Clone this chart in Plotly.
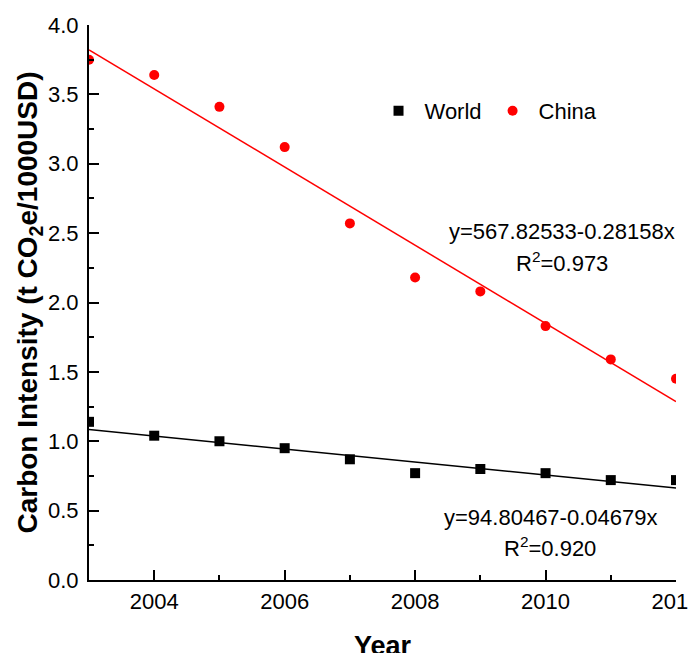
import plotly.graph_objects as go

years = [2003, 2004, 2005, 2006, 2007, 2008, 2009, 2010, 2011, 2012]
world = [1.14, 1.04, 1.00, 0.95, 0.87, 0.77, 0.80, 0.77, 0.72, 0.72]
china = [3.75, 3.64, 3.41, 3.12, 2.57, 2.18, 2.08, 1.83, 1.59, 1.45]

world_fit = (94.80467, -0.04679)
china_fit = (567.82533, -0.28158)
fit_x = [2003, 2012]

FONT = "Arial, Liberation Sans, sans-serif"

fig = go.Figure()

fig.add_trace(go.Scatter(
    x=fit_x, y=[world_fit[0] + world_fit[1] * x for x in fit_x],
    mode="lines", line=dict(color="black", width=1.5), showlegend=False))
fig.add_trace(go.Scatter(
    x=fit_x, y=[china_fit[0] + china_fit[1] * x for x in fit_x],
    mode="lines", line=dict(color="#ff0000", width=1.5), showlegend=False))

fig.add_trace(go.Scatter(
    x=years, y=world, mode="markers", name="World",
    marker=dict(symbol="square", color="black", size=10)))
fig.add_trace(go.Scatter(
    x=years, y=china, mode="markers", name="China",
    marker=dict(symbol="circle", color="#ff0000", size=10)))

ann_font = dict(family=FONT, size=22, color="black")
annotations = [
    dict(x=2010.25, y=2.51, text="y=567.82533-0.28158x"),
    dict(x=2010.25, y=2.29, text="R<sup>2</sup>=0.973"),
    dict(x=2010.07, y=0.454, text="y=94.80467-0.04679x"),
    dict(x=2010.07, y=0.238, text="R<sup>2</sup>=0.920"),
]
for a in annotations:
    a.update(xref="x", yref="y", showarrow=False, font=ann_font,
             xanchor="center", yanchor="middle")

fig.update_layout(
    width=696, height=653,
    margin=dict(l=81, r=28, t=17, b=81),
    paper_bgcolor="white", plot_bgcolor="white",
    font=dict(family=FONT, size=22, color="black"),
    annotations=annotations,
    legend=dict(orientation="h", x=0.483, y=0.845, xanchor="left", yanchor="middle",
                font=dict(family=FONT, size=22), bgcolor="rgba(0,0,0,0)",
                itemsizing="trace", itemwidth=42),
    xaxis=dict(
        range=[2003, 2012], tick0=2004, dtick=2, automargin=False,
        showline=True, linecolor="black", linewidth=2,
        ticks="inside", ticklen=10, tickwidth=2, tickcolor="black",
        minor=dict(ticks="inside", ticklen=5, tickwidth=2, dtick=1, tick0=2003, tickcolor="black"),
        showgrid=False, zeroline=False, ticklabelstandoff=1,
        ticklabeloverflow="allow",
        tickfont=dict(family=FONT, size=22),
        title=dict(text="<b>Year</b>", font=dict(family=FONT, size=27), standoff=24),
    ),
    yaxis=dict(
        range=[0, 4.0], tick0=0, dtick=0.5, tickformat=".1f", automargin=False,
        showline=True, linecolor="black", linewidth=2,
        ticks="inside", ticklen=10, tickwidth=2, tickcolor="black",
        minor=dict(ticks="inside", ticklen=5, tickwidth=2, dtick=0.25, tickcolor="black"),
        showgrid=False, zeroline=False, ticklabelstandoff=4,
        tickfont=dict(family=FONT, size=22),
        title=dict(text="<b>Carbon Intensity (t CO<sub>2</sub>e/1000USD)</b>",
                   font=dict(family=FONT, size=28), standoff=2),
    ),
)

fig.write_html("out.html")
